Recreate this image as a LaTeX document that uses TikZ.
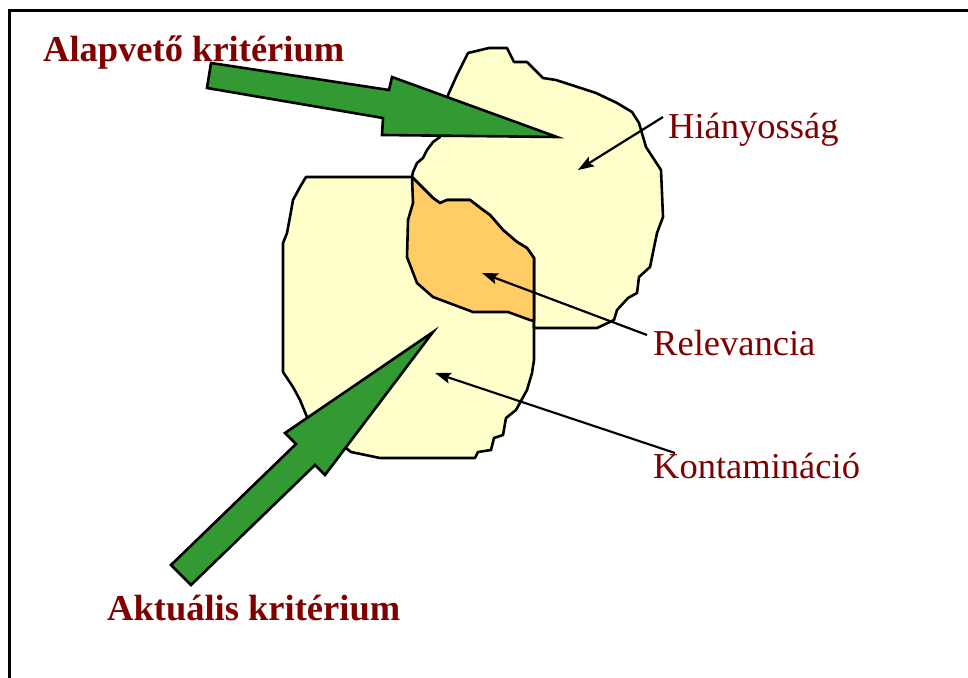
\documentclass[tikz,border=0pt]{standalone}
\usepackage{fontspec}
\setmainfont{Liberation Serif}
\usetikzlibrary{arrows.meta}
\definecolor{labelred}{RGB}{128,0,0}
\definecolor{paleyellow}{RGB}{255,255,204}
\definecolor{overlaporange}{RGB}{255,204,102}
\definecolor{arrowgreen}{RGB}{51,153,51}
\begin{document}
\begin{tikzpicture}[x=1pt,y=-1pt,
  blob/.style={draw=black, line width=2.6pt, line join=round},
  bigarrow/.style={fill=arrowgreen, draw=black, line width=2.6pt, line join=miter},
  pointer/.style={draw=black, line width=2.2pt, -{Stealth[length=16pt,width=11pt,inset=3pt]}},
  plainlabel/.style={text=labelred, inner sep=0pt, anchor=base west, font=\fontsize{36.5}{40}\selectfont},
  boldlabel/.style={plainlabel, font=\fontsize{36.5}{40}\selectfont\bfseries}]
\useasboundingbox (0,0) rectangle (968,677);
\fill[white] (0,0) rectangle (968,677);
\draw[line width=3pt] (9,690) -- (9,11) -- (980,11);
\filldraw[blob, fill=paleyellow] (306,177) -- (412,177) -- (433,198) -- (440,203) -- (447,200) -- (470,200) -- (483,210) -- (490,215) -- (503,230) -- (517,242) -- (527,248) -- (534,258) -- (534,360) -- (532,373) -- (527,390) -- (516,410) -- (506,418) -- (503,435) -- (494,438) -- (491,450) -- (478,452) -- (475,458) -- (380,458) -- (351,452) -- (307,417) -- (300,400) -- (293,387) -- (283,372) -- (283,243) -- (287,233) -- (290,217) -- (293,200) -- (300,187) -- cycle;
\filldraw[blob, fill=paleyellow] (468,53) -- (489,48) -- (507,48) -- (514,62) -- (527,62) -- (543,78) -- (556,80) -- (596,93) -- (617,103) -- (632,112) -- (639,123) -- (646,147) -- (661,170) -- (663,217) -- (657,233) -- (650,267) -- (639,277) -- (637,293) -- (628,298) -- (617,310) -- (614,320) -- (597,328) -- (534,328) -- (534,258) -- (527,248) -- (517,242) -- (503,230) -- (490,215) -- (483,210) -- (470,200) -- (447,200) -- (440,203) -- (433,198) -- (412,177) -- (413,172) -- (417,163) -- (423,158) -- (427,150) -- (433,142) -- (440,137) -- (448,95) -- (457,75) -- cycle;
\filldraw[blob, fill=overlaporange] (412,177) -- (433,198) -- (440,203) -- (447,200) -- (470,200) -- (483,210) -- (490,215) -- (503,230) -- (517,242) -- (527,248) -- (534,258) -- (534,321) -- (530,320) -- (508,312) -- (473,312) -- (433,297) -- (417,283) -- (407,257) -- (408,220) -- (413,203) -- cycle;
\filldraw[bigarrow] (211,63) -- (389,90) -- (392,77) -- (557,137) -- (382,135) -- (383,118) -- (207,88) -- cycle;
\filldraw[bigarrow] (171,565) -- (296,444) -- (285,433) -- (433,332) -- (325,475) -- (315,465) -- (191,585) -- cycle;
\node[boldlabel] (alap) at (43,62) {Alapvető kritérium};
\node[boldlabel] (aktual) at (107,620) {Aktuális kritérium};
\node[plainlabel] (hiany) at (668,138) {Hiányosság};
\node[plainlabel] (relev) at (653,355) {Relevancia};
\node[plainlabel] (kontam) at (653,478) {Kontamináció};
\coordinate (hianyTip) at (578,170);
\coordinate (relevTip) at (482,273);
\coordinate (kontamTip) at (435,373);
\draw[pointer] ([shift={(-5,-21)}]hiany.base west) -- (hianyTip);
\draw[pointer] ([shift={(-6,-20)}]relev.base west) -- (relevTip);
\draw[pointer] ([shift={(22,-25)}]kontam.base west) -- (kontamTip);
\end{tikzpicture}
\end{document}
